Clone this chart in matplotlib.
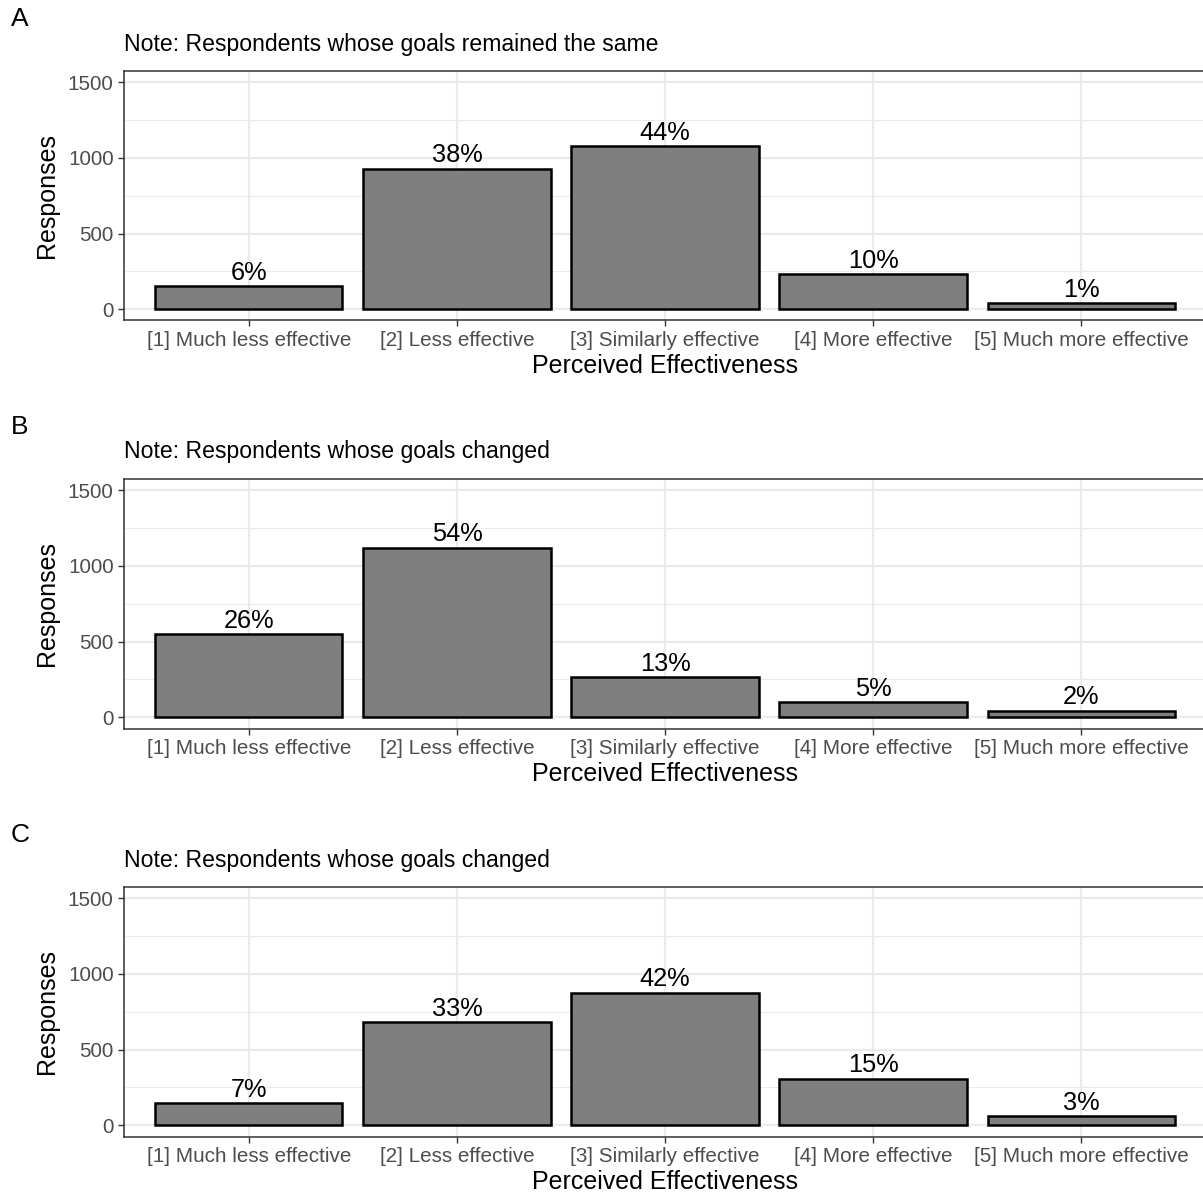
import matplotlib

matplotlib.use("Agg")
import matplotlib.pyplot as plt
from matplotlib.ticker import MultipleLocator

plt.rcParams["font.family"] = ["Liberation Sans", "DejaVu Sans"]

# values
categories = [
    "[1] Much less effective",
    "[2] Less effective",
    "[3] Similarly effective",
    "[4] More effective",
    "[5] Much more effective",
]
panel_letters = ["A", "B", "C"]
panel_notes = [
    "Note: Respondents whose goals remained the same",
    "Note: Respondents whose goals changed",
    "Note: Respondents whose goals changed",
]
responses_a = [152, 929, 1077, 233, 38]
responses_b = [547, 1121, 264, 100, 44]
responses_c = [146, 680, 877, 307, 60]
pct_a = ["6%", "38%", "44%", "10%", "1%"]
pct_b = ["26%", "54%", "13%", "5%", "2%"]
pct_c = ["7%", "33%", "42%", "15%", "3%"]

W, H = 1203, 1199
fig = plt.figure(figsize=(W / 100, H / 100), dpi=100)
fig.patch.set_facecolor("white")

grid_col = "#EBEBEB"
tick_col = "#4D4D4D"
panel_tops = [71, 479, 887]  # px from top
panel_h = 249.5
left_px, right_px = 124, 1206  # panel runs a few px past the right edge

series = [(responses_a, pct_a), (responses_b, pct_b), (responses_c, pct_c)]
xs = list(range(1, len(categories) + 1))

for i, (vals, pcts) in enumerate(series):
    top = panel_tops[i]
    ax = fig.add_axes([left_px / W, 1 - (top + panel_h) / H,
                       (right_px - left_px) / W, panel_h / H])
    ax.set_xlim(0.4, 5.6)
    ax.set_ylim(-75, 1575)
    ax.yaxis.set_major_locator(MultipleLocator(500))
    ax.yaxis.set_minor_locator(MultipleLocator(250))
    ax.grid(True, which="major", color=grid_col, lw=1.6, zorder=0)
    ax.grid(True, which="minor", axis="y", color=grid_col, lw=0.8, zorder=0)
    ax.set_axisbelow(True)

    ax.bar(xs, vals, width=0.9, color="#7F7F7F", edgecolor="black", lw=1.8, zorder=2)
    for x, v, p in zip(xs, vals, pcts):
        ax.annotate(p, (x, v), xytext=(0, 4.5), textcoords="offset points",
                    ha="center", va="baseline", fontsize=18.3, color="black", zorder=3)

    ax.set_xticks(xs)
    ax.set_xticklabels(categories)
    ax.tick_params(axis="both", which="major", length=4.5, width=1.0, color="#333333",
                   labelsize=14.9, labelcolor=tick_col, pad=3)
    ax.tick_params(axis="y", which="minor", length=0)
    for s in ax.spines.values():
        s.set_color("#333333")
        s.set_linewidth(1.1)

    ax.set_xlabel("Perceived Effectiveness", fontsize=18, labelpad=3)
    ax.set_ylabel("Responses", fontsize=18, labelpad=6)

    fig.text(124 / W, 1 - (top - 27) / H, panel_notes[i], fontsize=16.6,
             ha="left", va="center")
    fig.text(11 / W, 1 - (top - 52) / H, panel_letters[i], fontsize=19,
             ha="left", va="center")

fig.savefig("out.png", dpi=100)
